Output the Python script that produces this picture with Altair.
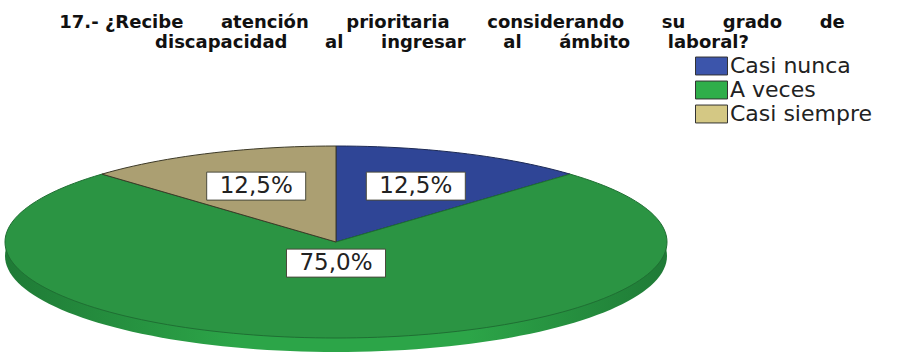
import math
import altair as alt
import pandas as pd

categories = ["Casi nunca", "A veces", "Casi siempre"]
shares = [12.5, 75.0, 12.5]
value_labels = ["12,5%", "75,0%", "12,5%"]
gap = "\u00a0" * 6
title_lines = [
    "17.- ¿Recibe" + gap + "atención" + gap + "prioritaria" + gap + "considerando" + gap + "su" + gap + "grado" + gap + "de",
    "discapacidad" + gap + "al" + gap + "ingresar" + gap + "al" + gap + "ámbito" + gap + "laboral?",
]
face_colors = ["#2f4596", "#2b9443", "#ab9f72"]
edge_colors = ["#1d2a55", "#1f6f33", "#3d3a28"]
legend_colors = ["#3c55ab", "#2fae4a", "#d4c884"]

# Ellipse placement of the tilted disc, in pixels of the 920x354 view.
CX, CY, RX, RY, DEPTH = 336, 242, 331, 96, 14
# Unit-circle scales so slices are plain (sin, cos) points.
x_scale = alt.Scale(domain=[-CX / RX, (920 - CX) / RX], range=[0, 920], nice=False, zero=False)
y_scale = alt.Scale(domain=[-(354 - CY) / RY, CY / RY], range=[354, 0], nice=False, zero=False)
X = alt.X("x:Q", scale=x_scale, axis=None)
Y = alt.Y("y:Q", scale=y_scale, axis=None)

# Slice outlines, clockwise from twelve o'clock.
rows = []
start = 0.0
mids = []
for cat, share in zip(categories, shares):
    a0 = start / 100 * 2 * math.pi
    a1 = (start + share) / 100 * 2 * math.pi
    n = max(8, int(share * 2))
    pts = [(0.0, 0.0)]
    pts += [(math.sin(a0 + (a1 - a0) * i / n), math.cos(a0 + (a1 - a0) * i / n)) for i in range(n + 1)]
    pts += [(0.0, 0.0)]
    for k, (px, py) in enumerate(pts):
        rows.append({"category": cat, "x": px, "y": py, "k": k})
    mids.append((a0 + a1) / 2)
    start += share
slices = pd.DataFrame(rows)

# Rim: the same disc pushed down by the depth.
rim = pd.DataFrame(
    [{"x": math.sin(2 * math.pi * i / 180), "y": math.cos(2 * math.pi * i / 180) - DEPTH / RY, "k": i} for i in range(181)]
)

wall = (
    alt.Chart(rim)
    .mark_line(
        fill=alt.Gradient(
            gradient="linear", x1=0, x2=1, y1=0, y2=0,
            stops=[
                alt.GradientStop(color="#1f7a36", offset=0),
                alt.GradientStop(color="#2ca548", offset=0.35),
                alt.GradientStop(color="#2ca548", offset=0.7),
                alt.GradientStop(color="#1f7a36", offset=1),
            ],
        ),
        strokeWidth=0,
    )
    .encode(x=X, y=Y, order="k:Q")
)

faces = (
    alt.Chart(slices)
    .mark_line(strokeWidth=1, strokeJoin="round")
    .encode(
        x=X,
        y=Y,
        order="k:Q",
        fill=alt.Fill("category:N", scale=alt.Scale(domain=categories, range=face_colors), legend=None),
        stroke=alt.Stroke("category:N", scale=alt.Scale(domain=categories, range=edge_colors), legend=None),
    )
)

# Legend with its own, lighter swatch colours; the carrier rect has no extent.
legend_carrier = (
    alt.Chart(pd.DataFrame({"category": categories}))
    .mark_rect()
    .encode(
        x=alt.value(0),
        x2=alt.value(0),
        y=alt.value(0),
        y2=alt.value(0),
        fill=alt.Fill(
            "category:N",
            scale=alt.Scale(domain=categories, range=legend_colors),
            legend=alt.Legend(
                title=None,
                orient="none",
                legendX=695,
                legendY=54,
                padding=0,
                symbolType="M-1,-0.56H1V0.56H-1Z",
                symbolSize=1024,
                symbolStrokeColor="#333333",
                symbolStrokeWidth=1,
                clipHeight=24,
                rowPadding=0,
                labelOffset=2,
                labelFont="DejaVu Sans",
                labelFontSize=22,
                labelColor="#222222",
                labelLimit=260,
            ),
        ),
    )
)

# Value boxes: radius factors along each slice's middle direction.
label_radius = [0.63, 0.22, 0.63]
box_dx, box_dy = 49.5 / RX, 14 / RY
label_rows = []
for lab, mid, r in zip(value_labels, mids, label_radius):
    lx, ly = math.sin(mid) * r, math.cos(mid) * r
    label_rows.append(
        {"label": lab, "x": lx, "y": ly, "x0": lx - box_dx, "x1": lx + box_dx, "y0": ly - box_dy, "y1": ly + box_dy}
    )
labels = pd.DataFrame(label_rows)

boxes = (
    alt.Chart(labels)
    .mark_rect(fill="white", stroke="#4a4a3c", strokeWidth=1)
    .encode(
        x=alt.X("x0:Q", scale=x_scale, axis=None),
        x2="x1:Q",
        y=alt.Y("y0:Q", scale=y_scale, axis=None),
        y2="y1:Q",
    )
)
box_text = (
    alt.Chart(labels)
    .mark_text(font="DejaVu Sans", fontSize=23, color="#222222", baseline="middle")
    .encode(x=X, y=Y, text="label:N")
)

# Two-line heading, one text mark per line.
title_df = pd.DataFrame({"line": title_lines, "row": [0, 1]})
title_marks = (
    alt.Chart(title_df)
    .mark_text(font="DejaVu Sans", fontWeight="bold", fontSize=18, color="#111111", baseline="middle", align="center")
    .encode(
        x=alt.value(452),
        y=alt.Y("row:Q", scale=alt.Scale(domain=[0, 1], range=[23, 43]), axis=None),
        text="line:N",
    )
)

chart = (
    alt.layer(wall, faces, legend_carrier, boxes, box_text, title_marks)
    .resolve_scale(fill="independent", y="independent")
    .properties(
        width=920,
        height=354,
        padding=0,
        background="white",
        autosize=alt.AutoSizeParams(type="none"),
    )
    .configure_view(stroke=None)
)

chart.save("out.html", embed_options={"renderer": "svg", "actions": False})
